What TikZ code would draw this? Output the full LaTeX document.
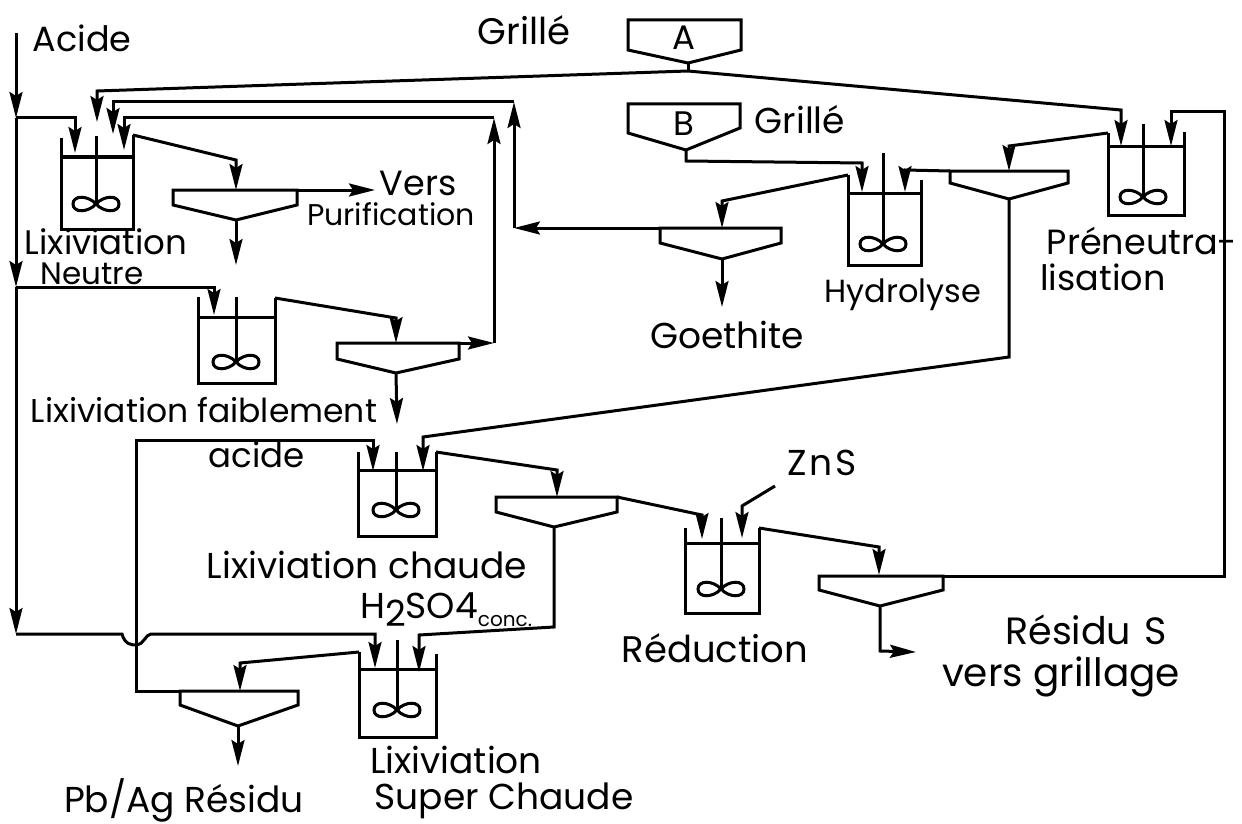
\documentclass[tikz,border=0pt]{standalone}
\usepackage{fontspec}
\setmainfont{Poppins}
\usetikzlibrary{arrows.meta}
\tikzset{
  ln/.style={line width=3pt,line join=miter,black},
  flow/.style={ln,-{Stealth[length=26pt,width=13pt,inset=4pt,quick]}},
  lab/.style={inner sep=0pt,anchor=center,font=\fontsize{#1}{#1}\selectfont},
  lab/.default=32,
  pics/mixerblade/.style={code={
    \draw[line width=3pt] (0,0) .. controls (-8,-9) and (-23,-9) .. (-23,0)
      .. controls (-23,9) and (-8,9) .. (0,0)
      .. controls (8,-9) and (23,-9) .. (23,0)
      .. controls (23,9) and (8,9) .. (0,0);}}
}
\newcommand{\tankshape}[7]{% name x1 x2 yfluid ybottom ytopL ytopR
  \coordinate (#1-L) at (#2,#6);
  \coordinate (#1-R) at (#3,#7);
  \draw[ln] (#1-L) -- (#2,#5) -- (#3,#5) -- (#1-R);
  \draw[ln] (#2,#4) -- (#3,#4);
}
\newcommand{\mixershape}[3]{% x ytop yblade
  \draw[ln] (#1,#2) -- (#1,#3);
  \pic at (#1,#3) {mixerblade};
}
\newcommand{\settlershape}[7]{% name x1 x2 ytop yside xapex yapex
  \coordinate (#1-TL) at (#2,#4);
  \coordinate (#1-TR) at (#3,#4);
  \coordinate (#1-A) at (#6,#7);
  \draw[ln] (#1-TL) -- (#1-TR) -- (#3,#5) -- (#1-A) -- (#2,#5) -- cycle;
}
\begin{document}
\begin{tikzpicture}[x=1pt,y=-1pt]
\useasboundingbox (0,0) rectangle (1242,824);
% hoppers
\draw[ln] (628,20) -- (741,20) -- (741,50) -- (688,63) -- (628,50) -- cycle;
\coordinate (Aout) at (688,63);
\draw[ln] (628,104) -- (740,104) -- (740,128) -- (686,150) -- (628,133) -- cycle;
\coordinate (Bout) at (686,150);
% tanks
\tankshape{t1}{61}{133}{157}{229}{138}{135}
\mixershape{96}{136}{204}
\tankshape{t2}{198}{275}{317}{383}{297}{298}
\mixershape{236}{297}{362}
\tankshape{t3}{358}{436}{470}{536}{452}{452}
\mixershape{396}{452}{510}
\tankshape{t4}{685}{759}{543}{613}{528}{528}
\mixershape{721}{518}{589}
\tankshape{t5}{1108}{1184}{147}{215}{133}{132}
\mixershape{1143}{124}{197}
\tankshape{t6}{848}{921}{193}{265}{175}{180}
\mixershape{883}{153}{244}
\tankshape{t7}{359}{436}{669}{737}{652}{654}
\mixershape{397}{640}{710}
% settlers
\settlershape{s1}{173}{297}{190}{205}{236}{220}
\settlershape{s2}{337}{459}{343}{359}{396}{373}
\settlershape{s3}{496}{617}{497}{512}{554}{527}
\settlershape{s4}{950}{1068}{171}{183}{1009}{199}
\settlershape{s5}{660}{781}{228}{243}{722}{259}
\settlershape{s6}{819}{943}{576}{590}{880}{606}
\settlershape{s7}{180}{298}{691}{705}{238}{726}
% acid line
\coordinate (a0) at (16,33);
\coordinate (a1) at (16,118);
\coordinate (a2) at (16,287);
\coordinate (a3) at (16,634);
\draw[flow] (a0) -- (a1);
\draw[flow] (a1) -- (a2);
\draw[flow] (a2) -- (a3);
\coordinate (a1t) at (75,153);
\draw[flow] (a1) -- (75,118) -- (a1t);
\coordinate (a2t) at (214,315);
\draw[flow] (a2) -- (214,287) -- (a2t);
\coordinate (a3t) at (375,668);
\draw[flow] (a3) -- (122,634) .. controls (125,645) and (132,645) .. (137,645)
   .. controls (143,645) and (146,634) .. (151,634) -- (375,634) -- (a3t);
% A feed
\coordinate (Aj) at (688,71);
\draw[ln] (Aout) -- (Aj);
\coordinate (p1) at (97,91);
\coordinate (p1t) at (97,122);
\draw[flow] (Aj) -- (p1) -- (p1t);
\coordinate (p2) at (1121,110);
\coordinate (p2t) at (1121,146);
\draw[flow] (Aj) -- (p2) -- (p2t);
% return 2 top
\coordinate (r2) at (514,102);
\coordinate (r2t) at (113,134);
\coordinate (s5l) at (514,228);
\draw[flow] (r2) -- (113,102) -- (r2t);
\draw[flow] (s5l) -- (r2);
\draw[flow] (s5-TL) -- (s5l);
% return 3
\coordinate (r3) at (494,118);
\coordinate (r3t) at (124,150);
\coordinate (s2r) at (494,343);
\draw[flow] (r3) -- (124,118) -- (r3t);
\draw[flow] (s2r) -- (r3);
\draw[flow] (s2-TR) -- (s2r);
% t1 -> s1
\coordinate (s1in) at (236,190);
\draw[flow] (t1-R) -- (236,160) -- (s1in);
\coordinate (purif) at (375,190);
\draw[flow] (s1-TR) -- (purif);
\coordinate (s1d) at (236,265);
\draw[flow] (s1-A) -- (s1d);
% t2 -> s2
\coordinate (s2in) at (396,343);
\draw[flow] (t2-R) -- (396,318) -- (s2in);
\coordinate (s2d) at (397,424);
\draw[flow] (s2-A) -- (s2d);
% s7 -> t3
\coordinate (t3a) at (373,471);
\draw[flow] (s7-TL) -- (136,691) -- (136,440) -- (373,440) -- (t3a);
% s4 -> t3
\coordinate (t3b) at (423,471);
\draw[flow] (s4-A) -- (1009,357) -- (423,437) -- (t3b);
% t3 -> s3
\coordinate (s3in) at (557,497);
\draw[flow] (t3-R) -- (557,470) -- (s3in);
% s3 -> t7
\coordinate (t7b) at (419,672);
\draw[flow] (s3-A) -- (554,627) -- (419,635) -- (t7b);
% s3 -> t4
\coordinate (t4a) at (702,539);
\draw[flow] (s3-TR) -- (702,515) -- (t4a);
% ZnS
\coordinate (zn0) at (775,486);
\coordinate (zn1) at (742,538);
\draw[flow] (zn0) -- (742,506) -- (zn1);
% t4 -> s6
\coordinate (s6in) at (879,575);
\draw[flow] (t4-R) -- (879,547) -- (s6in);
% s6 -> t5
\coordinate (t5b) at (1171,146);
\draw[flow] (s6-TR) -- (1224,576) -- (1224,112) -- (1171,112) -- (t5b);
% s6 under
\coordinate (s6d) at (916,652);
\draw[flow] (s6-A) -- (880,651) -- (s6d);
% t5 -> s4
\coordinate (s4in) at (1009,171);
\draw[flow] (t5-L) -- (1009,146) -- (s4in);
% s4 -> t6
\coordinate (t6b) at (905,192);
\draw[flow] (s4-TL) -- (905,170) -- (t6b);
% B -> t6
\coordinate (t6a) at (862,192);
\draw[flow] (Bout) -- (686,161) -- (862,163) -- (t6a);
% t6 -> s5
\coordinate (s5in) at (722,228);
\draw[flow] (t6-L) -- (722,201) -- (s5in);
\coordinate (s5d) at (722,307);
\draw[flow] (s5-A) -- (s5d);
% t7 -> s7
\coordinate (s7in) at (240,691);
\draw[flow] (t7-L) -- (240,663) -- (s7in);
\coordinate (s7d) at (238,766);
\draw[flow] (s7-A) -- (s7d);
% labels
\node[lab=35] (lAcide) at (82,38) {Acide};
\node[lab=37] (lGr1) at (524,30) {Grillé};
\node[lab=34] (lA) at (684,38) {A};
\node[lab=34] (lB) at (684,124) {B};
\node[lab=36] (lGr2) at (800,120) {Grillé};
\node[lab=35] (lVers) at (418,183) {Vers};
\node[lab=30] (lPur) at (391,214) {Purification};
\node[lab=34] (lLx1) at (106,242) {Lixiviation};
\node[lab=31] (lNeu) at (92,274) {Neutre};
\node[lab=36] (lGoe) at (727,335) {Goethite};
\node[lab=32] (lHyd) at (903,295) {Hydrolyse};
\node[lab=35] (lPre) at (1142,241) {Préneutra-};
\node[lab=35] (lLis) at (1103,277) {lisation};
\node[lab=33] (lFai) at (204,410) {Lixiviation faiblement};
\node[lab=34] (lAci) at (257,455) {acide};
\node[lab=36] (lCha) at (367,565) {Lixiviation chaude};
\node[lab=36,anchor=west] (lH2) at (360,610) {H\raisebox{-8pt}{2}SO4\raisebox{-8pt}{\fontsize{20}{20}\selectfont conc.}};
\node[lab=36] (lZn) at (822,463) {Z\hspace{3pt}n\hspace{3pt}S};
\node[lab=37] (lRed) at (715,648) {Réduction};
\node[lab=38] (lRes) at (1086,630) {Résidu\hspace{3pt} S};
\node[lab=39] (lVg) at (1061,677) {vers grillage};
\node[lab=36] (lPb) at (184,800) {Pb/Ag Résidu};
\node[lab=36] (lLx2) at (456,760) {Lixiviation};
\node[lab=36] (lSup) at (504,801) {Super Chaude};
\end{tikzpicture}
\end{document}
